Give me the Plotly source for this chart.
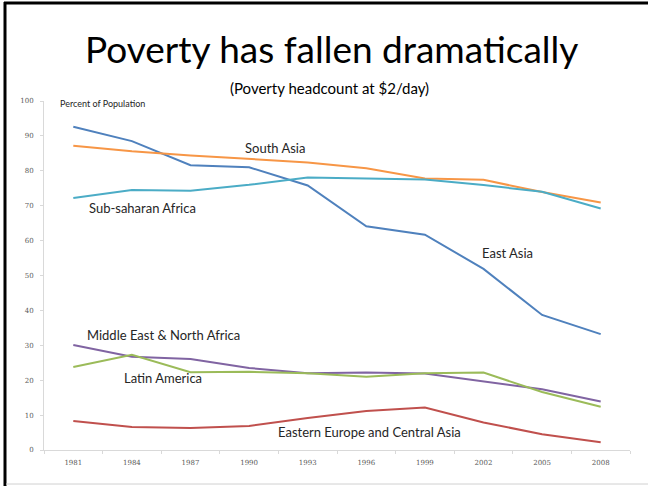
import plotly.graph_objects as go

years = ["1981", "1984", "1987", "1990", "1993", "1996", "1999", "2002", "2005", "2008"]

east_asia = [92.6, 88.5, 81.6, 81.0, 75.8, 64.1, 61.7, 51.9, 38.7, 33.2]
south_asia = [87.2, 85.6, 84.4, 83.4, 82.4, 80.7, 77.8, 77.4, 73.9, 70.9]
sub_saharan_africa = [72.2, 74.5, 74.3, 76.0, 78.1, 77.9, 77.5, 75.9, 74.0, 69.2]
mena = [30.1, 26.7, 26.1, 23.5, 22.0, 22.2, 21.9, 19.7, 17.4, 13.9]
latin_america = [23.8, 27.3, 22.3, 22.4, 22.0, 21.0, 22.0, 22.2, 16.6, 12.4]
eeca = [8.3, 6.6, 6.3, 6.9, 9.2, 11.2, 12.2, 7.9, 4.5, 2.2]

series = [
    ("East Asia", east_asia, "#4F81BD"),
    ("South Asia", south_asia, "#F79646"),
    ("Sub-saharan Africa", sub_saharan_africa, "#4BACC6"),
    ("Middle East & North Africa", mena, "#8064A2"),
    ("Latin America", latin_america, "#9BBB59"),
    ("Eastern Europe and Central Asia", eeca, "#C0504D"),
]

FONT = "Lato"
W, H = 648, 486
L, R, T, B = 44, 18, 101, 36
PW, PH = W - L - R, H - T - B


def px(x):
    return (x - L) / PW


def py(y):
    return (H - B - y) / PH


fig = go.Figure()
for name, vals, color in series:
    fig.add_trace(go.Scatter(x=years, y=vals, mode="lines", name=name,
                             line=dict(color=color, width=2)))

# series labels placed next to their lines (pixel positions)
labels = [
    ("South Asia", 275, 148),
    ("Sub-saharan Africa", 142, 208),
    ("East Asia", 507, 253),
    ("Middle East & North Africa", 163, 335),
    ("Latin America", 163, 378),
    ("Eastern Europe and Central Asia", 370, 432),
]
annotations = []
for text, x, y in labels:
    annotations.append(dict(text=text, x=px(x), y=py(y), xref="paper", yref="paper",
                            showarrow=False, xanchor="center", yanchor="middle",
                            font=dict(family=FONT, size=13, color="#262626")))

annotations.append(dict(text="Percent of Population", x=px(58), y=py(103), xref="paper",
                        yref="paper", showarrow=False, xanchor="left", yanchor="middle",
                        font=dict(family=FONT, size=9, color="#262626")))
annotations.append(dict(text="Poverty has fallen dramatically", x=px(331), y=py(48),
                        xref="paper", yref="paper", showarrow=False, xanchor="center",
                        yanchor="middle", font=dict(family=FONT, size=37, color="#000000")))
annotations.append(dict(text="(Poverty headcount at $2/day)", x=px(329), y=py(88),
                        xref="paper", yref="paper", showarrow=False, xanchor="center",
                        yanchor="middle", font=dict(family=FONT, size=15, color="#000000")))

# slide frame
shapes = [
    dict(type="line", xref="paper", yref="paper", x0=px(5), x1=px(5), y0=py(2), y1=py(486),
         line=dict(color="#000000", width=3)),
    dict(type="line", xref="paper", yref="paper", x0=px(4), x1=px(648), y0=py(3), y1=py(3),
         line=dict(color="#000000", width=3)),
    dict(type="line", xref="paper", yref="paper", x0=px(6), x1=px(648), y0=py(484), y1=py(484),
         line=dict(color="#d0d0d0", width=1)),
]

fig.update_layout(
    width=W, height=H,
    margin=dict(l=L, r=R, t=T, b=B),
    paper_bgcolor="white", plot_bgcolor="white",
    showlegend=False,
    annotations=annotations,
    shapes=shapes,
    xaxis=dict(type="category", range=[-0.5, 9.5], showgrid=False, showline=True,
               linecolor="#d9d9d9", linewidth=1, ticks="outside", tickson="boundaries",
               ticklen=3, tickcolor="#d9d9d9", ticklabelstandoff=6,
               tickfont=dict(family="DejaVu Serif", size=7, color="#595959"),
               zeroline=False),
    yaxis=dict(range=[0, 100], dtick=10, showgrid=False, showline=True, linecolor="#d9d9d9",
               linewidth=1, ticks="outside", ticklen=3, tickcolor="#d9d9d9",
               ticklabelstandoff=5,
               tickfont=dict(family="DejaVu Serif", size=7, color="#595959"),
               zeroline=False),
)

fig.write_html("out.html")
